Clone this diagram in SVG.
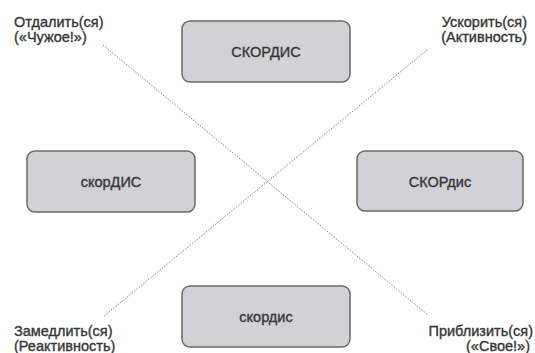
<svg xmlns="http://www.w3.org/2000/svg" width="535" height="353" viewBox="0 0 535 353">
<style>
.box{fill:#d2d2d6;stroke:#6a6a6a;stroke-width:1.5}
.t{font-family:"Liberation Sans",Arial,sans-serif;font-size:14.5px;fill:#363636;stroke:#363636;stroke-width:0.35}
.c{text-anchor:middle}
.r{text-anchor:end}
.ln{stroke:#808080;stroke-width:1;stroke-dasharray:1.5 1.5;fill:none}
</style>
<rect width="535" height="353" fill="#fff"/>
<g id="connectors">
<line class="ln" x1="103" y1="45" x2="428" y2="315"/>
<line class="ln" x1="427" y1="50" x2="103" y2="317"/>
</g>
<g id="top"><rect class="box" x="182" y="21" width="168" height="61" rx="8"/><text class="t c" x="266" y="57">СКОРДИС</text></g>
<g id="left"><rect class="box" x="27" y="151" width="168" height="61" rx="8"/><text class="t c" x="111" y="187">скорДИС</text></g>
<g id="right"><rect class="box" x="357" y="151" width="166" height="60" rx="8"/><text class="t c" x="440" y="187">СКОРдис</text></g>
<g id="bottom"><rect class="box" x="182" y="286" width="168" height="61" rx="8"/><text class="t c" x="266" y="322">скордис</text></g>
<g id="tl"><text class="t" x="14" y="27">Отдалить(ся)</text><text class="t" x="14" y="42">(«Чужое!»)</text></g>
<g id="tr"><text class="t r" x="527" y="27">Ускорить(ся)</text><text class="t r" x="527" y="42">(Активность)</text></g>
<g id="bl"><text class="t" x="14" y="336">Замедлить(ся)</text><text class="t" x="14" y="351">(Реактивность)</text></g>
<g id="br"><text class="t r" x="533" y="336">Приблизить(ся)</text><text class="t r" x="530" y="351">(«Свое!»)</text></g>
</svg>
